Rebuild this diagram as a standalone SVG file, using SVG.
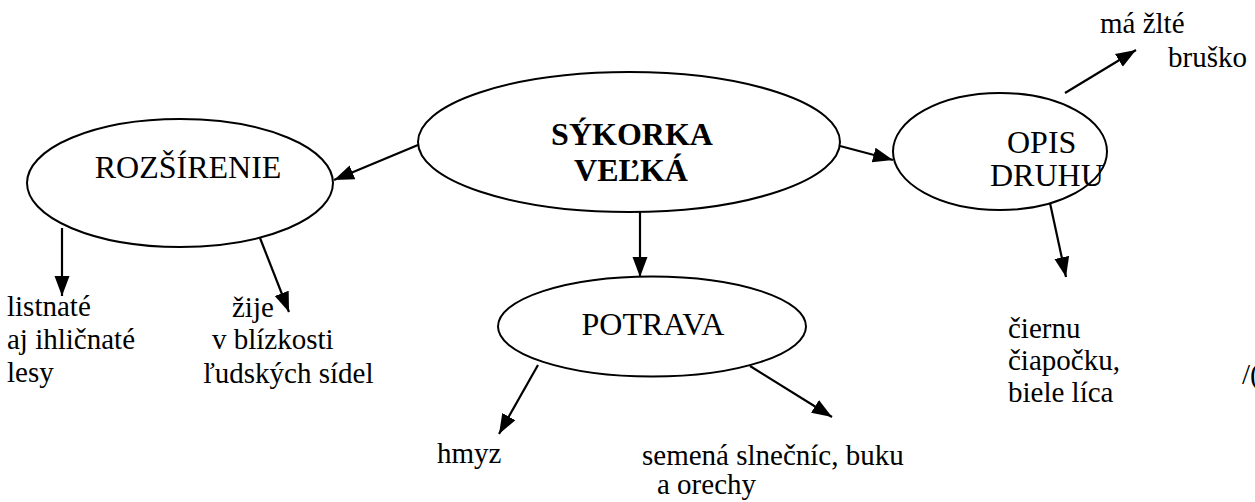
<svg xmlns="http://www.w3.org/2000/svg" width="1255" height="502" viewBox="0 0 1255 502" font-family="Liberation Serif, Times New Roman, serif">
<style>
.node ellipse{fill:#fff;stroke:#000;stroke-width:2}
.lbl{font-size:32px;fill:#000}
.txt{font-size:29px;fill:#000}
</style>
<defs>
<marker id="ah" markerUnits="userSpaceOnUse" markerWidth="22" markerHeight="18" viewBox="0 0 22 18" refX="20" refY="9" orient="auto">
<path d="M0,1.5 L20,9 L0,16.5 Z" fill="#000"/>
</marker>
</defs>
<rect width="1255" height="502" fill="#fff"/>
<g id="connectors" stroke="#000" stroke-width="2.2" marker-end="url(#ah)">
<line x1="418" y1="145" x2="334" y2="180"/>
<line x1="840" y1="146" x2="893" y2="160"/>
<line x1="640" y1="212" x2="640" y2="277"/>
<line x1="62" y1="228" x2="62" y2="296"/>
<line x1="260" y1="238" x2="289" y2="312"/>
<line x1="538" y1="365" x2="499" y2="434"/>
<line x1="750" y1="366" x2="832" y2="417"/>
<line x1="1050" y1="203" x2="1066" y2="277"/>
<line x1="1065" y1="93" x2="1136" y2="50"/>
</g>
<g id="node-sykorka" class="node" font-family="Liberation Serif, serif">
<ellipse cx="629" cy="142" rx="211" ry="70"/>
<text class="lbl" font-weight="bold" x="632" y="145" text-anchor="middle">SÝKORKA</text>
<text class="lbl" font-weight="bold" x="631" y="181" text-anchor="middle">VEĽKÁ</text>
</g>
<g id="node-rozsirenie" class="node" font-family="Liberation Serif, serif">
<ellipse cx="180" cy="183" rx="153" ry="64"/>
<text class="lbl" x="188" y="178" text-anchor="middle">ROZŠÍRENIE</text>
</g>
<g id="node-potrava" class="node" font-family="Liberation Serif, serif">
<ellipse cx="652" cy="326.5" rx="154" ry="50"/>
<text class="lbl" x="653" y="335" text-anchor="middle">POTRAVA</text>
</g>
<g id="node-opis" class="node" font-family="Liberation Serif, serif">
<ellipse cx="1000" cy="151.5" rx="107" ry="58.5"/>
<text class="lbl" font-size="27" x="1007" y="153">OPIS</text>
<text class="lbl" font-size="27" x="990" y="186">DRUHU</text>
</g>
<g id="leaf-lesy" font-family="Liberation Serif, serif">
<text class="txt" x="7" y="316">listnaté</text>
<text class="txt" x="7" y="349">aj ihličnaté</text>
<text class="txt" x="7" y="382">lesy</text>
</g>
<g id="leaf-zije" font-family="Liberation Serif, serif">
<text class="txt" x="232" y="317">žije</text>
<text class="txt" x="212" y="349">v blízkosti</text>
<text class="txt" x="203" y="383">ľudských sídel</text>
</g>
<g id="leaf-hmyz" font-family="Liberation Serif, serif">
<text class="txt" x="437" y="463">hmyz</text>
</g>
<g id="leaf-semena" font-family="Liberation Serif, serif">
<text class="txt" x="642" y="465">semená slnečníc, buku</text>
<text class="txt" x="657" y="494">a orechy</text>
</g>
<g id="leaf-ciapocka" font-family="Liberation Serif, serif">
<text class="txt" x="1008" y="338">čiernu</text>
<text class="txt" x="1008" y="370">čiapočku,</text>
<text class="txt" x="1008" y="402">biele líca</text>
</g>
<g id="leaf-brusko" font-family="Liberation Serif, serif">
<text class="txt" x="1100" y="33">má žlté</text>
<text class="txt" x="1168" y="67">bruško</text>
</g>
<text class="txt" font-family="Liberation Serif, serif" x="1242" y="384">/(</text>
</svg>
